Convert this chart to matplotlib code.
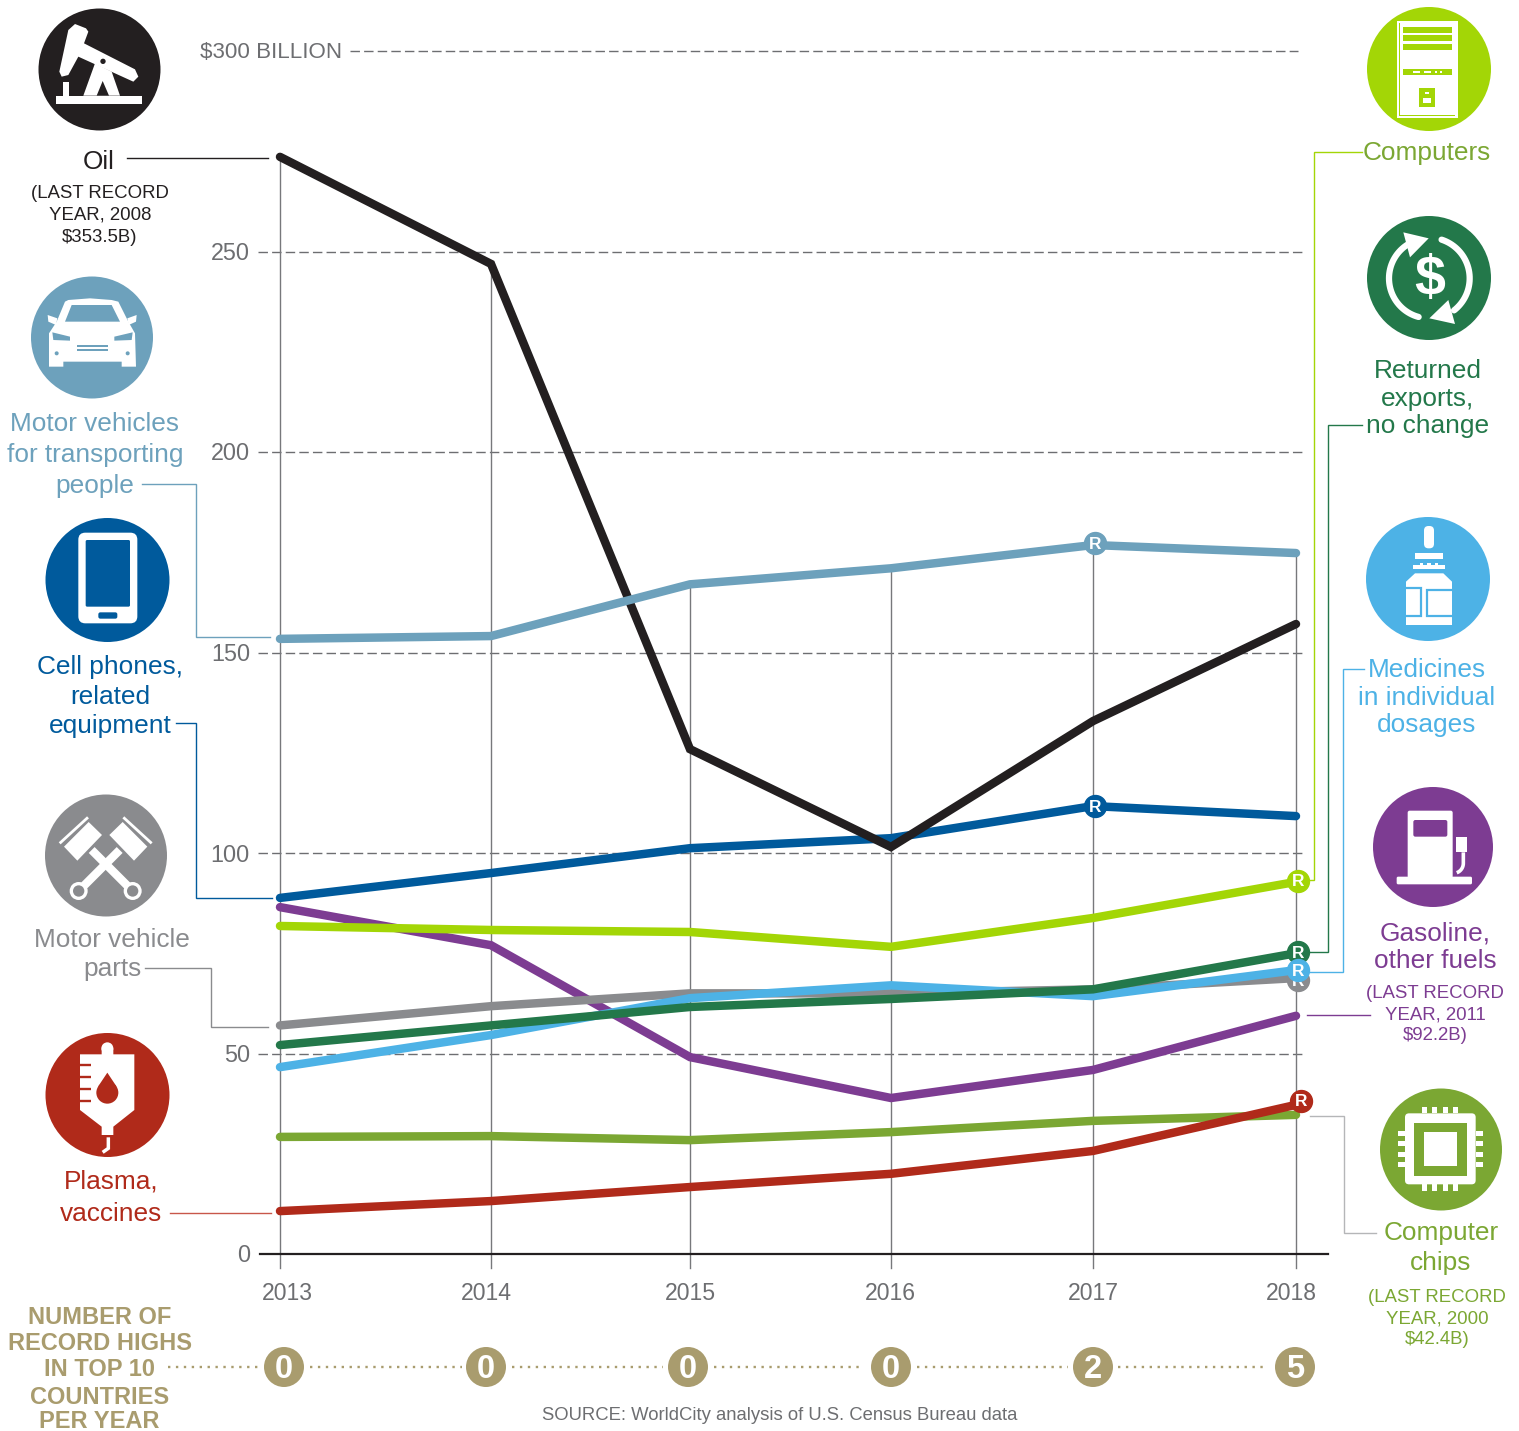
import numpy as np
import matplotlib
matplotlib.use("Agg")
import matplotlib.pyplot as plt
from matplotlib import transforms
from matplotlib.patches import Circle, Polygon, Rectangle, FancyBboxPatch

plt.rcParams['font.family'] = ['Liberation Sans', 'DejaVu Sans']

# ---------- data ----------
years = [2013, 2014, 2015, 2016, 2017, 2018]
oil = [273.6, 246.9, 125.9, 101.5, 132.9, 157.1]
motor_vehicles = [153.4, 154.1, 167.0, 171.0, 176.8, 174.8]
cell_phones = [88.8, 95.0, 101.2, 103.7, 111.7, 109.2]
computers = [81.8, 80.8, 80.3, 76.6, 83.8, 92.8]
returned_exports = [52.1, 57.0, 61.6, 63.6, 66.0, 75.0]
medicines = [46.6, 54.6, 63.8, 67.0, 64.3, 70.8]
vehicle_parts = [57.0, 61.8, 65.0, 65.0, 66.0, 68.8]
gasoline = [86.5, 77.0, 49.1, 38.9, 45.9, 59.4]
computer_chips = [29.2, 29.4, 28.4, 30.4, 33.2, 34.7]
plasma = [10.7, 13.2, 16.7, 20.0, 25.7, 37.2]
record_highs = [0, 0, 0, 0, 2, 5]
y_ticks = [0, 50, 100, 150, 200, 250]

# ---------- colours ----------
BLACK = '#231F20'; STEEL = '#6DA1BC'; NAVY = '#005A9C'; GREY = '#8A8B8E'
RED = '#B02A1A'; LIME = '#A3D606'; GREEN = '#23784A'; SKY = '#4DB2E6'
PURPLE = '#7D3C92'; OLIVE = '#7BA733'; TAN = '#A99C6E'; TXT = '#6D6E71'

# ---------- layout ----------
W, H = 1519, 1431
PX_PER_UNIT = 4.01
Y0 = 1254
year_x = [280, 491, 690, 891, 1093, 1296]
year_label_x = [287, 486, 690, 890, 1093, 1291]
badge_x = [284, 486, 688, 891, 1093, 1295]

fig = plt.figure(figsize=(W / 100, H / 100), dpi=100, facecolor='white')
ax = fig.add_axes([0, 0, 1, 1])
ax.set_xlim(0, W)
ax.set_ylim((Y0 - H) / PX_PER_UNIT, Y0 / PX_PER_UNIT)
ax.axis('off')
px = fig.add_axes([0, 0, 1, 1], facecolor='none')
px.set_xlim(0, W)
px.set_ylim(H, 0)
px.axis('off')

TXT_DY = 2  # pixels, downward nudge for vertically centred text
tick_tf = transforms.offset_copy(ax.transData, fig=fig, x=0, y=-TXT_DY, units='dots')

# grid
GRID_DASH = (6.8, 3.0)
for v in y_ticks[1:]:
    ax.plot([258, 1303], [v, v], color=TXT, lw=1.0, dashes=GRID_DASH, zorder=1)
    ax.text(250, v, str(v), ha='right', va='center', fontsize=16.8, color=TXT, transform=tick_tf)
ax.plot([350, 1298], [300, 300], color=TXT, lw=1.0, dashes=GRID_DASH, zorder=1)
ax.text(342, 300, '$300 BILLION', ha='right', va='center', fontsize=16.1, color=TXT, transform=tick_tf)
ax.text(250, 0, '0', ha='right', va='center', fontsize=16.8, color=TXT, transform=tick_tf)
ax.plot([260, 1328], [0, 0], color=BLACK, lw=1.6, zorder=1.5)

series = [
    (computer_chips, OLIVE), (gasoline, PURPLE), (vehicle_parts, GREY), (medicines, SKY),
    (returned_exports, GREEN), (computers, LIME), (plasma, RED),
    (cell_phones, NAVY), (oil, BLACK), (motor_vehicles, STEEL),
]

# year verticals rise to the highest series of that year
tops = np.max([s for s, _ in series], axis=0)
for x, t in zip(year_x, tops):
    ax.plot([x, x], [-3.5, t], color='#77787B', lw=1.0, zorder=1.2)

for i, (vals, col) in enumerate(series):
    ax.plot(year_x, vals, color=col, lw=6.1, solid_capstyle='round',
            solid_joinstyle='miter', zorder=3 + i * 0.1)

# R markers: series, year index, colour, z, pixel nudge
markers = [(vehicle_parts, 5, GREY, 4.0, 2, -2), (returned_exports, 5, GREEN, 4.1, 2, 1),
           (medicines, 5, SKY, 4.2, 2, 0), (computers, 5, LIME, 4.3, 2, 1),
           (plasma, 5, RED, 4.4, 5, 4), (motor_vehicles, 4, STEEL, 4.5, 2, 2),
           (cell_phones, 4, NAVY, 4.6, 2, 0)]
for vals, idx, col, z, dx, dy in markers:
    mt = transforms.offset_copy(ax.transData, fig=fig, x=dx, y=dy, units='dots')
    tt = transforms.offset_copy(ax.transData, fig=fig, x=dx, y=dy - 1, units='dots')
    ax.plot([year_x[idx]], [vals[idx]], 'o', ms=15.8, mfc=col, mec=col, transform=mt, zorder=z)
    ax.text(year_x[idx], vals[idx], 'R', color='white', fontsize=12.5, fontweight='bold',
            ha='center', va='center', transform=tt, zorder=z + 0.01)

# year labels + record badges
for x, y in zip(year_label_x, years):
    px.text(x, 1291 + TXT_DY, str(y), ha='center', va='center', fontsize=16.6, color=TXT)
for x, n in zip(badge_x, record_highs):
    px.add_patch(Circle((x, 1367), 20, fc=TAN, ec='none', zorder=3))
    px.text(x, 1369, str(n), ha='center', va='center', fontsize=23.5, fontweight='bold',
            color='white', zorder=4)
for a, b in [(168, 262), (310, 462), (512, 663), (714, 863), (917, 1068), (1118, 1268)]:
    px.plot([a, b], [1367, 1367], color=TAN, lw=1.7, dashes=(1, 2.35), zorder=2)

# leader lines
leaders = [
    ([127, 268], [158, 158], BLACK), ([142, 196, 196, 270], [484, 484, 637, 637], STEEL),
    ([176, 196, 196, 272], [723, 723, 898, 898], NAVY),
    ([145, 211, 211, 268], [968, 968, 1027, 1027], GREY),
    ([170, 271], [1213, 1213], '#C8574A'),
    ([1362, 1314, 1314, 1308], [152, 152, 880, 880], LIME),
    ([1362, 1328, 1328, 1310], [425, 425, 952, 952], GREEN),
    ([1364, 1343, 1343, 1309], [669, 669, 972, 972], SKY),
    ([1307, 1370], [1015, 1015], PURPLE),
    ([1310, 1344, 1344, 1376], [1116, 1116, 1233, 1233], '#B5B6B8'),
]
for xs, ys, c in leaders:
    px.plot(xs, ys, color=c, lw=1.0, solid_joinstyle='miter', zorder=2)

# text
BIG, SMALL = 18.9, 13.4
labels = [
    ('Oil', 99, 160, BIG, BLACK), ('(LAST RECORD', 100, 191, SMALL, BLACK),
    ('YEAR, 2008', 100, 213, SMALL, BLACK), ('$353.5B)', 100, 235, SMALL, BLACK),
    ('Motor vehicles', 95, 422, BIG, STEEL), ('for transporting', 95, 453, BIG, STEEL),
    ('people', 95, 484, BIG, STEEL),
    ('Cell phones,', 110, 665, BIG, NAVY), ('related', 110, 695, BIG, NAVY),
    ('equipment', 110, 724, BIG, NAVY),
    ('Motor vehicle', 112, 938, BIG, GREY), ('parts', 112, 967, BIG, GREY),
    ('Plasma,', 111, 1179, BIG, RED), ('vaccines', 111, 1212, BIG, RED),
    ('Computers', 1427, 151, BIG, OLIVE),
    ('Returned', 1428, 369, BIG, GREEN), ('exports,', 1428, 397, BIG, GREEN),
    ('no change', 1428, 424, BIG, GREEN),
    ('Medicines', 1427, 668, BIG, SKY), ('in individual', 1427, 696, BIG, SKY),
    ('dosages', 1427, 723, BIG, SKY),
    ('Gasoline,', 1435, 931, BIG, PURPLE), ('other fuels', 1435, 959, BIG, PURPLE),
    ('(LAST RECORD', 1435, 991, SMALL, PURPLE), ('YEAR, 2011', 1435, 1013, SMALL, PURPLE),
    ('$92.2B)', 1435, 1034, SMALL, PURPLE),
    ('Computer', 1441, 1231, BIG, OLIVE), ('chips', 1441, 1261, BIG, OLIVE),
    ('(LAST RECORD', 1437, 1295, SMALL, OLIVE), ('YEAR, 2000', 1437, 1317, SMALL, OLIVE),
    ('$42.4B)', 1437, 1338, SMALL, OLIVE),
    ('SOURCE: WorldCity analysis of U.S. Census Bureau data', 780, 1413, 13.35, TXT),
]
for t, x, y, s, c in labels:
    px.text(x, y + TXT_DY, t, ha='center', va='center', fontsize=s, color=c)
for t, y in zip(['NUMBER OF', 'RECORD HIGHS', 'IN TOP 10', 'COUNTRIES', 'PER YEAR'],
                [1315, 1341, 1368, 1395, 1419]):
    px.text(99.5, y + TXT_DY, t, ha='center', va='center', fontsize=17.0, fontweight='bold', color=TAN)

# ---------- icon helpers (coords: 3x zoom crop + origin) ----------
def zc(pts, ox, oy):
    return [(ox + x / 3, oy + y / 3) for x, y in pts]

def poly(pts, ox, oy, c='white', z=6):
    px.add_patch(Polygon(zc(pts, ox, oy), closed=True, fc=c, ec='none', zorder=z))

def rect(x0, y0, x1, y1, ox, oy, c='white', z=6, round_=0):
    X0, Y0_, X1, Y1 = ox + x0 / 3, oy + y0 / 3, ox + x1 / 3, oy + y1 / 3
    if round_:
        px.add_patch(FancyBboxPatch((X0 + round_, Y0_ + round_), X1 - X0 - 2 * round_,
                                    Y1 - Y0_ - 2 * round_,
                                    boxstyle=f'round,pad={round_},rounding_size={round_}',
                                    fc=c, ec='none', zorder=z))
    else:
        px.add_patch(Rectangle((X0, Y0_), X1 - X0, Y1 - Y0_, fc=c, ec='none', zorder=z))

def disc(x, y, r, ox, oy, c='white', z=6):
    px.add_patch(Circle((ox + x / 3, oy + y / 3), r / 3, fc=c, ec='none', zorder=z))

def line(pts, ox, oy, c='white', lw=2, z=6, cap='butt'):
    p = np.array(zc(pts, ox, oy))
    px.plot(p[:, 0], p[:, 1], color=c, lw=lw, solid_capstyle=cap, solid_joinstyle='miter', zorder=z)

for (cx, cy, r, c) in [(99.5, 69.5, 61, BLACK), (92, 337.5, 61, STEEL), (107.5, 580, 62, NAVY),
                       (106, 855.5, 61, GREY), (107.5, 1095, 62, RED), (1429, 69, 62, LIME),
                       (1429, 278, 62, GREEN), (1428, 579, 62, SKY), (1433, 847, 60, PURPLE),
                       (1441, 1149.5, 61, OLIVE)]:
    px.add_patch(Circle((cx, cy), r, fc=c, ec='none', zorder=5))

# oil pump
rect(168, 287, 427, 312, 0, 0)
rect(190, 245, 207, 287, 0, 0)
poly([(250, 287), (285, 190), (335, 215), (360, 287)], 0, 0)
poly([(290, 287), (308, 243), (327, 287)], 0, 0, BLACK, 7)
poly([(225, 72), (258, 85), (265, 95), (252, 130), (405, 208), (415, 230), (400, 245),
      (235, 170), (205, 225), (185, 230), (178, 215), (205, 90)], 0, 0, 'white', 6.5)
disc(309, 184, 8, 0, 0, BLACK, 7)

# car
poly([(205, 900), (270, 895), (335, 900), (355, 905), (385, 965), (405, 1000), (408, 1100),
      (365, 1100), (365, 1085), (190, 1085), (190, 1100), (147, 1100), (147, 1000),
      (170, 965), (195, 905)], 0, 0)
poly([(215, 915), (335, 915), (360, 965), (195, 965)], 0, 0, STEEL, 7)
poly([(143, 945), (172, 955), (168, 975), (145, 965)], 0, 0)
poly([(410, 945), (382, 955), (386, 975), (408, 965)], 0, 0)
poly([(157, 997), (210, 1010), (210, 1022), (160, 1020)], 0, 0, STEEL, 7)
poly([(398, 997), (343, 1010), (343, 1022), (395, 1020)], 0, 0, STEEL, 7)
rect(230, 1035, 325, 1040, 0, 0, STEEL, 7)
rect(230, 1048, 325, 1054, 0, 0, STEEL, 7)
disc(170, 1060, 6, 0, 0, STEEL, 7)
disc(383, 1060, 6, 0, 0, STEEL, 7)

# phone
rect(235, 68, 412, 340, 0, 510, round_=7)
rect(257, 90, 390, 290, 0, 510, NAVY, 7, round_=1.5)
rect(295, 307, 352, 326, 0, 510, NAVY, 7, round_=2)

# pistons
OY = 510
for m in (0, 1):
    f = (lambda x: 634 - x) if m else (lambda x: x)
    poly([(f(328), 975), (f(368), 936), (f(442), 1010), (f(402), 1052)], 0, OY)
    line([(f(370), 922), (f(455), 1000)], 0, OY, lw=2)
    line([(f(398), 1143), (f(275), 1020)], 0, OY, lw=6)
    disc(f(398), 1143, 27, 0, OY)
    disc(f(398), 1143, 17, 0, OY, GREY, 7)

# blood bag
OY = 1020
poly([(240, 103), (305, 103), (305, 85), (340, 85), (340, 103), (403, 103), (403, 270),
      (340, 320), (340, 345), (305, 345), (305, 320), (240, 270)], 0, OY)
disc(322, 85, 18, 0, OY)
for y in (135, 170, 207, 243):
    line([(240, y), (272, y)], 0, OY, RED, 1.7, 7)
disc(322, 218, 33, 0, OY, RED, 7)
poly([(322, 158), (350, 200), (294, 200)], 0, OY, RED, 7)
line([(325, 352), (325, 385), (308, 397)], 0, OY, lw=2.5)

# computer
rect(291, 62, 473, 355, 1300, 0)
for a, b, c, d in [(298, 68, 466, 70), (298, 345, 466, 348), (298, 68, 300, 348), (464, 68, 466, 348)]:
    rect(a, b, c, d, 1300, 0, LIME, 7)
for a, b in [(80, 98), (105, 124), (132, 151), (206, 225)]:
    rect(308, a, 455, b, 1300, 0, LIME, 7)
for a, b in [(340, 360), (372, 392), (405, 412), (420, 427)]:
    rect(a, 213, b, 218, 1300, 0, 'white', 8)
rect(357, 264, 406, 320, 1300, 0, LIME, 7)
rect(376, 276, 386, 282, 1300, 0, 'white', 8)
rect(370, 295, 392, 308, 1300, 0, 'white', 8)

# returned exports
px.text(1429.5, 281, '$', ha='center', va='center', fontsize=40, fontweight='bold',
        color='white', zorder=7)
th = np.radians(np.linspace(105, 238, 40))
line([(387 + 120 * np.cos(t), 835 + 120 * np.sin(t)) for t in th], 1300, 0, lw=4.5, cap='round')
poly([(310, 697), (386, 715), (330, 772)], 1300, 0)
th = np.radians(np.linspace(-72, 52, 40))
line([(387 + 122 * np.cos(t), 835 + 122 * np.sin(t)) for t in th], 1300, 0, lw=4.5, cap='round')
poly([(465, 972), (388, 955), (445, 900)], 1300, 0)

# medicine
OY = 510; OX = 1340
rect(252, 48, 282, 115, OX, OY, round_=4.5)
rect(225, 130, 310, 148, OX, OY)
rect(220, 165, 315, 178, OX, OY)
for x in (240, 262, 285):
    rect(x, 160, x + 10, 166, OX, OY)
poly([(198, 215), (225, 190), (310, 190), (336, 215), (336, 345), (198, 345)], OX, OY)
line([(198, 235), (243, 235), (243, 318), (198, 318)], OX, OY, SKY, 1.6, 7)
line([(336, 240), (260, 240), (260, 318), (336, 318)], OX, OY, SKY, 1.6, 7)

# gas pump
rect(203, 902, 338, 1105, OX, OY, round_=2)
rect(220, 930, 322, 980, OX, OY, PURPLE, 7, round_=2)
rect(170, 1100, 396, 1123, OX, OY, round_=1.5)
rect(347, 980, 380, 1027, OX, OY)
th = np.radians(np.linspace(0, 70, 12))
line([(370, 1027), (370, 1060)] + [(340 + 30 * np.cos(t), 1060 + 30 * np.sin(t)) for t in th],
     OX, OY, lw=2.6)

# chip
OX = 1220; OY = 1080
rect(555, 100, 767, 313, OX, OY, round_=4)
rect(582, 128, 741, 288, OX, OY, OLIVE, 7)
rect(612, 157, 712, 257, OX, OY, 'white', 8)
for a in (607, 637, 670, 700):
    rect(a, 82, a + 15, 100, OX, OY)
    rect(a, 313, a + 15, 332, OX, OY)
for a in (152, 182, 215, 245):
    rect(535, a, 555, a + 16, OX, OY)
    rect(767, a, 788, a + 16, OX, OY)

fig.savefig('out.png', dpi=100, facecolor='white')
